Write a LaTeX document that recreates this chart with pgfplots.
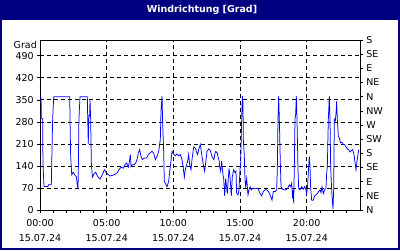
\documentclass[border=0pt]{standalone}
\usepackage{fontspec}
\setmainfont{DejaVu Sans}
\usepackage{pgfplots}
\pgfplotsset{compat=1.18}
\definecolor{navy}{RGB}{0,0,128}
\definecolor{lineblue}{RGB}{0,0,255}
\begin{document}
\fontsize{9.5}{11}\selectfont
\begin{tikzpicture}[x=1pt,y=1pt]
\useasboundingbox (0,0) rectangle (400,250);
\fill[white] (0,0) rectangle (400,250);
\fill[navy] (0,230) rectangle (400,250);
\draw[navy, line width=2pt] (1,1) rectangle (399,249);
\node[text=white, font=\fontsize{9.5}{11}\selectfont\bfseries] at (202,240) {Windrichtung [Grad]};
\node[anchor=east, inner sep=0pt] at (37,205) {Grad};
\begin{axis}[
  at={(40pt,40pt)}, anchor=south west, scale only axis,
  width=320pt, height=170pt,
  xmin=0, xmax=24, ymin=0, ymax=540,
  axis line style={black, line width=0.8pt},
  xtick={0,5,10,15,20},
  minor xtick={1,2,3,4,6,7,8,9,11,12,13,14,16,17,18,19,21,22,23},
  xticklabels={{00:00\\15.07.24},{05:00\\15.07.24},{10:00\\15.07.24},{15:00\\15.07.24},{20:00\\15.07.24}},
  xticklabel style={align=center, font=\fontsize{9.5}{15.5}\selectfont, yshift=-3pt},
  ytick={0,70,140,210,280,350,420,490},
  yticklabel style={font=\fontsize{9.5}{11}\selectfont},
  /pgf/number format/assume math mode=true,
  xtick pos=bottom, ytick pos=left,
  tick align=outside,
  major tick length=3pt, minor tick length=3pt,
  tick style={black, line width=0.6pt},
  xmajorgrids, ymajorgrids,
  grid style={black, dash pattern=on 4pt off 3pt, line width=0.7pt},
]
\addplot[lineblue, line width=0.75pt, mark=none] coordinates {
(0,358)(0.08,358)(0.1,290)(0.2,290)(0.22,150)(0.3,75)(0.6,75)(0.63,80)(0.85,80)(0.88,150)(0.95,290)(1.03,360)(2.23,360)(2.25,290)(2.3,170)(2.38,112)(2.48,120)(2.6,112)(2.73,105)(2.8,80)(2.85,66)(2.88,140)(2.92,290)(3.0,360)(3.55,360)(3.57,310)(3.62,210)(3.67,300)(3.72,300)(3.75,350)(3.8,290)(3.85,150)(3.93,104)(4.05,115)(4.18,120)(4.3,108)(4.5,98)
(4.675,112)(4.825,128)(5.0,117)(5.25,108)(5.425,110)(5.625,113)(5.8,119)(5.925,128)(6.075,136)(6.25,133)(6.375,144)(6.5,149)(6.625,136)(6.7,152)(6.775,176)(6.825,138)(6.925,144)(7.075,144)(7.175,149)(7.275,160)(7.375,181)(7.475,192)(7.575,170)(7.675,160)(7.825,165)(8.0,165)(8.125,176)(8.325,184)
(8.4,186)(8.525,181)(8.65,160)(8.775,170)(8.9,186)(9.025,224)(9.075,314)(9.15,362)(9.2,277)(9.275,186)(9.325,91)(9.45,80)(9.525,74)(9.65,91)(9.775,138)(9.9,186)(10.025,178)(10.15,172)(10.275,178)(10.4,172)(10.525,176)(10.65,160)(10.775,123)(10.825,104)(10.9,128)(10.975,141)(11.075,155)(11.15,176)(11.225,144)(11.325,128)(11.4,160)(11.525,200)(11.65,197)(11.725,186)(11.825,176)(11.9,192)(12.025,208)(12.15,170)(12.275,138)(12.35,123)(12.425,149)(12.525,186)(12.65,194)(12.775,189)(12.9,170)(13.05,160)
(13.1,176)(13.175,186)(13.3,181)(13.375,165)(13.425,160)(13.475,138)(13.55,123)(13.625,155)(13.675,132)(13.725,112)(13.775,100)(13.85,45)(13.925,100)(14.05,52)(14.175,132)(14.25,108)(14.35,45)(14.425,106)(14.525,128)(14.625,119)(14.7,123)(14.75,52)(14.85,48)(14.925,64)(15.0,128)(15.05,149)(15.125,288)(15.175,362)(15.225,341)(15.25,224)(15.325,170)(15.375,96)(15.425,74)(15.5,100)(15.6,48)(15.675,64)(15.75,74)(15.85,64)(15.95,69)(16.1,67)(16.25,69)(16.375,67)(16.5,52)(16.625,45)(16.75,59)(16.875,64)(17.0,64)(17.125,59)(17.225,52)(17.325,40)
(17.4,31)(17.5,59)(17.65,59)(17.75,64)(17.8,132)(17.85,288)(17.9,362)(17.95,288)(18.025,149)(18.075,74)(18.2,66)(18.325,64)(18.45,64)(18.575,69)(18.7,80)(18.8,74)(18.875,85)(18.95,36)(19.0,64)(19.025,21)(19.075,138)(19.125,288)(19.175,304)(19.225,362)(19.275,288)(19.35,128)(19.4,69)(19.5,64)(19.625,74)(19.75,66)(19.85,74)(19.95,64)(20.0,52)(20.075,80)(20.15,138)(20.2,170)
(20.25,138)(20.3,69)(20.375,31)(20.5,31)(20.6,45)(20.7,48)(20.8,52)(20.9,59)(21.0,64)(21.075,55)(21.15,74)(21.25,52)(21.35,64)(21.45,69)(21.5,117)(21.55,138)(21.625,288)(21.7,362)(21.75,288)(21.8,138)(21.875,64)(21.925,31)(21.975,3)(22.025,64)(22.075,288)(22.15,283)(22.225,320)(22.25,346)(22.3,288)(22.375,234)(22.45,229)(22.55,213)(22.65,215)(22.75,208)(22.85,208)(22.95,200)(23.05,194)(23.15,192)(23.25,184)(23.35,189)(23.45,192)(23.55,176)(23.625,152)(23.7,128)(23.775,155)(23.85,176)(23.9,192)
};
\end{axis}
\begin{axis}[
  at={(40pt,40pt)}, anchor=south west, scale only axis,
  width=320pt, height=170pt,
  xmin=0, xmax=24, ymin=0, ymax=540,
  axis x line=none, axis y line*=right,
  axis line style={black, line width=0.8pt},
  ytick={0,45,...,540},
  yticklabels={N,NE,E,SE,S,SW,W,NW,N,NE,E,SE,S},
  yticklabel style={font=\fontsize{9.5}{11}\selectfont},
  tick align=outside, major tick length=3pt,
  tick style={black, line width=0.6pt},
]
\end{axis}
\end{tikzpicture}
\end{document}
